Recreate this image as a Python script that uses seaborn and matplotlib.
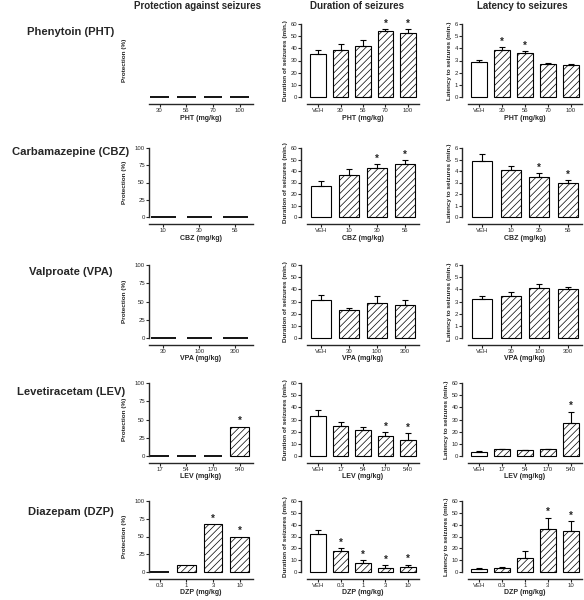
import numpy as np
import pandas as pd
import matplotlib
matplotlib.use("Agg")
import matplotlib.pyplot as plt
import seaborn as sns

# rows: drug names and dose labels
drug_names = ["Phenytoin (PHT)", "Carbamazepine (CBZ)", "Valproate (VPA)",
              "Levetiracetam (LEV)", "Diazepam (DZP)"]
drug_abbr = ["PHT", "CBZ", "VPA", "LEV", "DZP"]
doses = [["30", "56", "70", "100"],
         ["10", "30", "56"],
         ["30", "100", "300"],
         ["17", "54", "170", "540"],
         ["0.3", "1", "3", "10"]]

# protection against seizures (%)
prot_pht = [0, 0, 0, 0]
prot_cbz = [0, 0, 0]
prot_vpa = [0, 0, 0]
prot_lev = [0, 0, 0, 40]
prot_dzp = [0, 10, 67, 50]
prot_star = [[], [], [], [3], [2, 3]]

# duration of seizures (min.), first value = VEH
dur_pht = [35, 39, 42, 54, 53]
dur_pht_err = [4, 4.5, 4.5, 1.5, 2.5]
dur_cbz = [27, 36.5, 43, 46]
dur_cbz_err = [4, 5.5, 3, 3.5]
dur_vpa = [31, 23, 28.5, 27.5]
dur_vpa_err = [4, 2, 6, 4]
dur_lev = [33, 24.5, 21, 16.5, 13.5]
dur_lev_err = [4.5, 3.5, 3, 3, 5]
dur_dzp = [32, 17.5, 7.5, 3.5, 4]
dur_dzp_err = [3.5, 2.5, 2.5, 2, 2]
dur_star = [[3, 4], [2, 3], [], [3, 4], [1, 2, 3, 4]]

# latency to seizures (min.), first value = VEH
lat_pht = [2.9, 3.9, 3.6, 2.7, 2.65]
lat_pht_err = [0.15, 0.2, 0.15, 0.08, 0.1]
lat_cbz = [4.9, 4.1, 3.5, 2.95]
lat_cbz_err = [0.6, 0.3, 0.3, 0.25]
lat_vpa = [3.2, 3.45, 4.1, 4.0]
lat_vpa_err = [0.25, 0.35, 0.35, 0.2]
lat_lev = [3.5, 5.5, 5.0, 5.5, 27.5]
lat_lev_err = [0.5, 0.3, 0.3, 0.3, 9]
lat_dzp = [2.5, 3.5, 12, 36.5, 34.5]
lat_dzp_err = [0.5, 0.5, 6, 9.5, 8.5]
lat_star = [[1, 2], [2, 3], [], [4], [3, 4]]

prot_vals = [prot_pht, prot_cbz, prot_vpa, prot_lev, prot_dzp]
dur_vals = [dur_pht, dur_cbz, dur_vpa, dur_lev, dur_dzp]
dur_errs = [dur_pht_err, dur_cbz_err, dur_vpa_err, dur_lev_err, dur_dzp_err]
lat_vals = [lat_pht, lat_cbz, lat_vpa, lat_lev, lat_dzp]
lat_errs = [lat_pht_err, lat_cbz_err, lat_vpa_err, lat_lev_err, lat_dzp_err]
lat_max = [6, 6, 6, 60, 60]

sns.set_style("ticks")
plt.rcParams['font.family'] = ['Liberation Sans', 'DejaVu Sans']
plt.rcParams['hatch.linewidth'] = 0.5

W, H = 584, 600
fig = plt.figure(figsize=(W / 100, H / 100), dpi=100)

rows_y = [(24, 97), (148, 217), (265, 338), (383, 456), (501, 572)]
cols_x = [(149, 253), (307, 419), (468, 582)]


def make_ax(r, c):
    x0, x1 = cols_x[c]
    y0, y1 = rows_y[r]
    return fig.add_axes([x0 / W, 1 - y1 / H, (x1 - x0) / W, (y1 - y0) / H])


def draw_panel(ax, labels, vals, errs, ymax, step, ylabel, xlabel, stars,
               hatch_first, left_off=4, xmin=-0.5, show_y=True):
    df = pd.DataFrame({"dose": labels, "val": vals})
    sns.barplot(data=df, x="dose", y="val", order=labels, color="white",
                saturation=1, edgecolor="black", linewidth=0.8, width=0.7,
                errorbar=None, ax=ax)
    for i, p in enumerate(ax.patches):
        p.set_clip_on(False)
        if vals[i] == 0:
            p.set_linewidth(1.3)
        if i > 0 or hatch_first:
            p.set_hatch("/////")
    if errs is not None:
        ax.errorbar(range(len(vals)), vals, yerr=[np.zeros(len(vals)), errs],
                    fmt="none", ecolor="black", elinewidth=0.8, capsize=2.2,
                    capthick=0.8, clip_on=False)
    for i in stars:
        top = vals[i] + (errs[i] if errs is not None else 0)
        ax.text(i, top + ymax * 0.01, "*", ha="center", va="bottom",
                fontsize=7, fontweight="bold")
    ax.set_xlim(xmin, len(vals) - 0.5)
    ax.set_ylim(0, ymax)
    ax.set_yticks(np.arange(0, ymax + step / 2, step))
    ax.tick_params(labelsize=4.3, width=0.8, length=2, pad=1)
    for t in ax.get_xticklabels() + ax.get_yticklabels():
        t.set_fontweight("bold")
    ax.set_xlabel(xlabel, fontsize=5, fontweight="bold", labelpad=1)
    ax.set_ylabel(ylabel, fontsize=4.6, fontweight="bold", labelpad=2)
    ax.patch.set_alpha(0)
    for s in ["left", "bottom"]:
        ax.spines[s].set_linewidth(1)
    sns.despine(ax=ax, offset={"left": left_off, "bottom": 5})
    if not show_y:
        ax.spines["left"].set_visible(False)
        ax.set_yticks([])


for r in range(5):
    xl = f"{drug_abbr[r]} (mg/kg)"
    ax = make_ax(r, 0)
    draw_panel(ax, doses[r], prot_vals[r], None, 100, 25, "Protection (%)", xl,
               prot_star[r], True, left_off=0, xmin=-0.4, show_y=(r > 0))
    ax.yaxis.set_label_coords((127 - 149) / 104, 0.5)

    ax = make_ax(r, 1)
    draw_panel(ax, ["VEH"] + doses[r], dur_vals[r], dur_errs[r], 60, 10,
               "Duration of seizures (min.)", xl, dur_star[r], False)

    ax = make_ax(r, 2)
    draw_panel(ax, ["VEH"] + doses[r], lat_vals[r], lat_errs[r], lat_max[r],
               lat_max[r] / 6, "Latency to seizures (min.)", xl, lat_star[r],
               False)

    yc = [32, 152, 272, 392, 512][r]
    fig.text(71 / W, 1 - yc / H, drug_names[r], ha="center", va="center",
             fontsize=8.1, fontweight="bold")

col_titles = ["Protection against seizures", "Duration of seizures",
              "Latency to seizures"]
for cx, t in zip([198, 357, 522], col_titles):
    fig.text(cx / W, 1 - 6 / H, t, ha="center", va="center", fontsize=7,
             fontweight="bold")

fig.savefig("out.png", dpi=100)
